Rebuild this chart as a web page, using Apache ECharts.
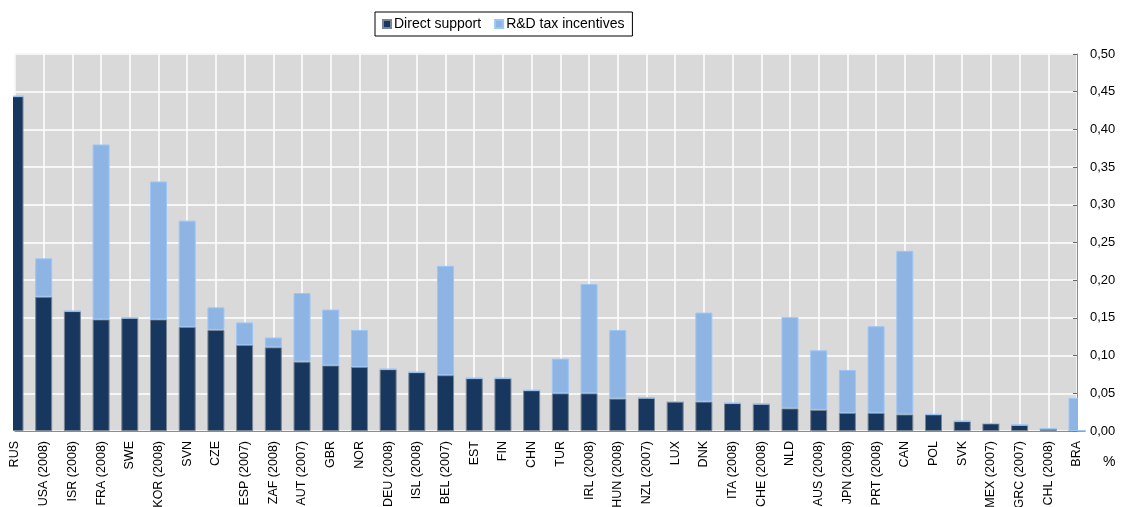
<!DOCTYPE html>
<html>
<head>
<meta charset="utf-8">
<script src="https://cdn.jsdelivr.net/npm/echarts@6/dist/echarts.min.js"></script>
<style>
html,body{margin:0;padding:0;background:#fff;}
#chart{width:1128px;height:507px;}
</style>
</head>
<body>
<div id="chart"></div>
<script>
const categories = ["RUS","USA (2008)","ISR (2008)","FRA (2008)","SWE","KOR (2008)","SVN","CZE","ESP (2007)","ZAF (2008)","AUT (2007)","GBR","NOR","DEU (2008)","ISL (2008)","BEL (2007)","EST","FIN","CHN","TUR","IRL (2008)","HUN (2008)","NZL (2007)","LUX","DNK","ITA (2008)","CHE (2008)","NLD","AUS (2008)","JPN (2008)","PRT (2008)","CAN","POL","SVK","MEX (2007)","GRC (2007)","CHL (2008)","BRA"];
const directSupport = [0.444,0.178,0.159,0.148,0.150,0.148,0.138,0.134,0.114,0.111,0.092,0.087,0.085,0.082,0.078,0.074,0.070,0.070,0.054,0.050,0.050,0.043,0.044,0.039,0.039,0.037,0.036,0.030,0.028,0.024,0.024,0.022,0.022,0.013,0.010,0.008,0.003,0];
const taxIncentives = [0,0.051,0,0.232,0,0.183,0.141,0.030,0.030,0.013,0.091,0.074,0.049,0,0,0.145,0,0,0,0.046,0.145,0.091,0,0,0.118,0,0,0.121,0.079,0.057,0.115,0.217,0,0,0,0,0,0.044];
const yTicks = {min:0, max:0.5, interval:0.05};

const chart = echarts.init(document.getElementById('chart'), null, {renderer:'canvas'});
const font = 'Liberation Sans, Arial, sans-serif';
const gLeft = 15, gRight = 51, gTop = 54, gBottom = 76;
chart.setOption({
  animation:false,
  textStyle:{fontFamily:font, color:'#000'},
  legend:{
    left:375, top:12,
    padding:[5,8,5,7],
    borderColor:'#000', borderWidth:1,
    itemWidth:8, itemHeight:8, itemGap:13,
    icon:'rect',
    textStyle:{fontFamily:font, fontSize:14, color:'#000', padding:[0,0,0,-2]},
    data:['Direct support','R&D tax incentives']
  },
  grid:{left:gLeft, right:gRight, top:gTop, bottom:gBottom, containLabel:false, outerBoundsMode:'none',
    show:true, backgroundColor:'#D9D9D9', borderColor:'#c4c4c4', borderWidth:1},
  xAxis:{
    type:'category', data:categories, boundaryGap:false,
    axisLine:{show:true, lineStyle:{color:'#8c8c8c', width:1}},
    axisTick:{show:false},
    axisLabel:{rotate:90, interval:0, fontSize:12.5, color:'#000', margin:10, fontFamily:font},
    splitLine:{show:true, lineStyle:{color:'#ffffff', width:1.5}}
  },
  yAxis:{
    type:'value', position:'right', min:yTicks.min, max:yTicks.max, interval:yTicks.interval,
    axisLine:{show:true, lineStyle:{color:'#8c8c8c', width:1}},
    axisTick:{show:true, inside:true, length:4, lineStyle:{color:'#666'}},
    axisLabel:{fontSize:13, color:'#000', margin:13, fontFamily:font,
      formatter:function(v){return v.toFixed(2).replace('.',',');}},
    splitLine:{show:true, lineStyle:{color:'#ffffff', width:1.5}}
  },
  graphic:[
    {type:'rect', z:100, left:0, top:gTop-2, shape:{width:gLeft-2, height:507-gTop-gBottom+4}, style:{fill:'#ffffff'}},
    {type:'rect', z:100, left:1128-gRight+1, top:gTop-2, shape:{width:10, height:507-gTop-gBottom+1}, style:{fill:'#ffffff'}},
    {type:'text', z:101, left:1103, top:455, style:{text:'%', fontSize:14, fill:'#000', fontFamily:font}}
  ],
  series:[
    {name:'Direct support', type:'bar', stack:'a', data:directSupport, barWidth:17,
      itemStyle:{color:'#17375E', borderColor:'#7a8594', borderWidth:1}},
    {name:'R&D tax incentives', type:'bar', stack:'a', data:taxIncentives, barWidth:17,
      itemStyle:{color:'#8EB4E3', borderColor:'#9cc6f7', borderWidth:1}}
  ]
});
</script>
</body>
</html>
